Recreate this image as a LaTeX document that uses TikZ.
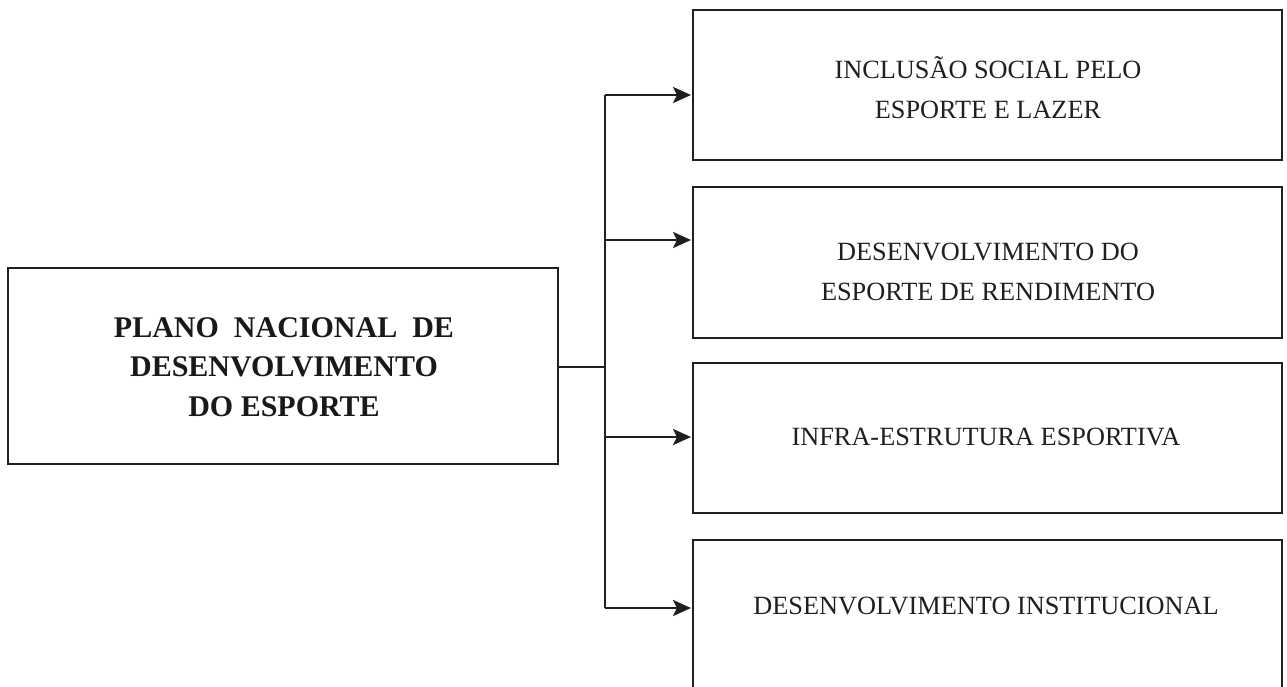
\documentclass[tikz,border=0pt]{standalone}
\usepackage{fontspec}
\setmainfont{Liberation Serif}
\usetikzlibrary{arrows.meta}
\begin{document}
\begin{tikzpicture}[x=1pt,y=-1pt,
  boxline/.style={draw=black!88,line width=2.7pt},
  conn/.style={draw=black!88,line width=2.7pt},
  arr/.style={conn,-{Stealth[length=18pt,width=16pt,inset=4pt]}},
  rtext/.style={font=\fontsize{26.3}{40}\selectfont,align=center,text=black!88},
  ltext/.style={font=\fontsize{30}{39.5}\selectfont\bfseries,align=center,text=black!90}]
\useasboundingbox (0,0) rectangle (1287,686);
\clip (0,0) rectangle (1287,686);
% boxes
\draw[boxline] (8,268) rectangle (558,464);
\draw[boxline] (693,10) rectangle (1282,160);
\draw[boxline] (693,187) rectangle (1282,338);
\draw[boxline] (693,363) rectangle (1282,513);
\draw[boxline] (693,700) |- (1282,540) -- (1282,700);
% anchors on boxes
\coordinate (L) at (558,367);
\coordinate (T) at (605,367);
\coordinate (A1) at (691,95);
\coordinate (A2) at (691,240);
\coordinate (A3) at (691,437);
\coordinate (A4) at (691,608);
\coordinate (J1) at (605,95);
\coordinate (J2) at (605,240);
\coordinate (J3) at (605,437);
\coordinate (J4) at (605,608);
% texts
\node[ltext] (main) at (284,367) {PLANO\ \ NACIONAL\ \ DE\\DESENVOLVIMENTO\\DO ESPORTE};
\node[rtext] (b1) at (988,88) {INCLUSÃO SOCIAL PELO\\ESPORTE E LAZER};
\node[rtext] (b2) at (988,272) {DESENVOLVIMENTO DO\\ESPORTE DE RENDIMENTO};
\node[rtext] (b3) at (986,437) {INFRA-ESTRUTURA ESPORTIVA};
\node[rtext] (b4) at (986,606) {DESENVOLVIMENTO INSTITUCIONAL};
% connectors
\draw[conn] (L) -- (T);
\draw[conn] (J1) -- (J4);
\draw[arr] (J1) -- (A1);
\draw[arr] (J2) -- (A2);
\draw[arr] (J3) -- (A3);
\draw[arr] (J4) -- (A4);
\end{tikzpicture}
\end{document}
